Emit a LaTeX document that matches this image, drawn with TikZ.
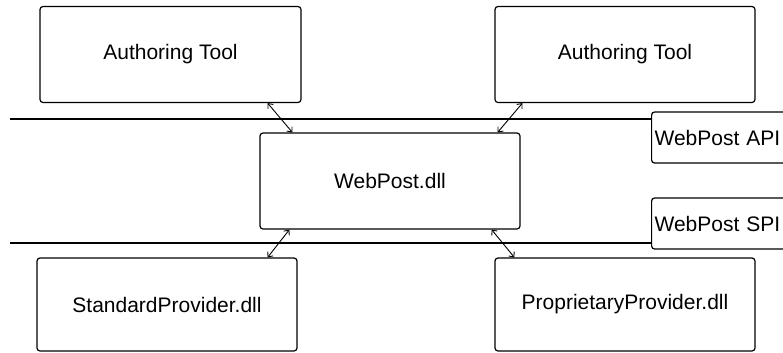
\documentclass[tikz,border=0pt]{standalone}
\usepackage{fontspec}
\setmainfont{Liberation Sans}
\usetikzlibrary{arrows.meta}
\begin{document}
\begin{tikzpicture}[
        x=1bp, y=-1bp, line width=1.2bp,
        font=\fontsize{21bp}{25bp}\selectfont, >={Straight Barb[length=4bp,width=7bp]},
        blk/.style={draw, rounded corners=3bp, align=center, minimum width=260bp, minimum height=96bp, inner sep=0pt},
        ifc/.style={draw, rounded corners=3bp, anchor=west, text width=134bp, align=left, inner xsep=3bp, minimum height=51bp},
        link/.style={<->, line width=0.9bp}
    ]
        \useasboundingbox (0,0) rectangle (783,352);
        \clip (0,0) rectangle (783,352);
        \node[blk, minimum width=261bp] (at1) at (170.5,54.5) {Authoring Tool};
        \node[blk] (at2) at (625,54.5) {Authoring Tool};
        \node[blk] (dll) at (390,181) {WebPost.dll};
        \node[blk, minimum height=93bp] (sp) at (167,304.5) {StandardProvider.dll};
        \node[blk, minimum height=93bp] (pp) at (625,304.5) {ProprietaryProvider.dll};
        \node[ifc] (api) at (651,137.5) {WebPost API};
        \node[ifc] (spi) at (651,223.5) {WebPost SPI};
        \coordinate (apiL) at (10,119);
        \coordinate (spiL) at (10,243);
        \draw (apiL) -- (apiL -| api.west);
        \draw (spiL) -- (spiL -| spi.west);
        \draw[link] ([xshift=-34bp]at1.south east) -- ([xshift=33bp]dll.north west);
        \draw[link] ([xshift=28bp]at2.south west) -- ([xshift=-23bp]dll.north east);
        \draw[link] ([xshift=30bp]dll.south west) -- ([xshift=-30bp]sp.north east);
        \draw[link] ([xshift=-29bp]dll.south east) -- ([xshift=20bp]pp.north west);
    \end{tikzpicture}
\end{document}
